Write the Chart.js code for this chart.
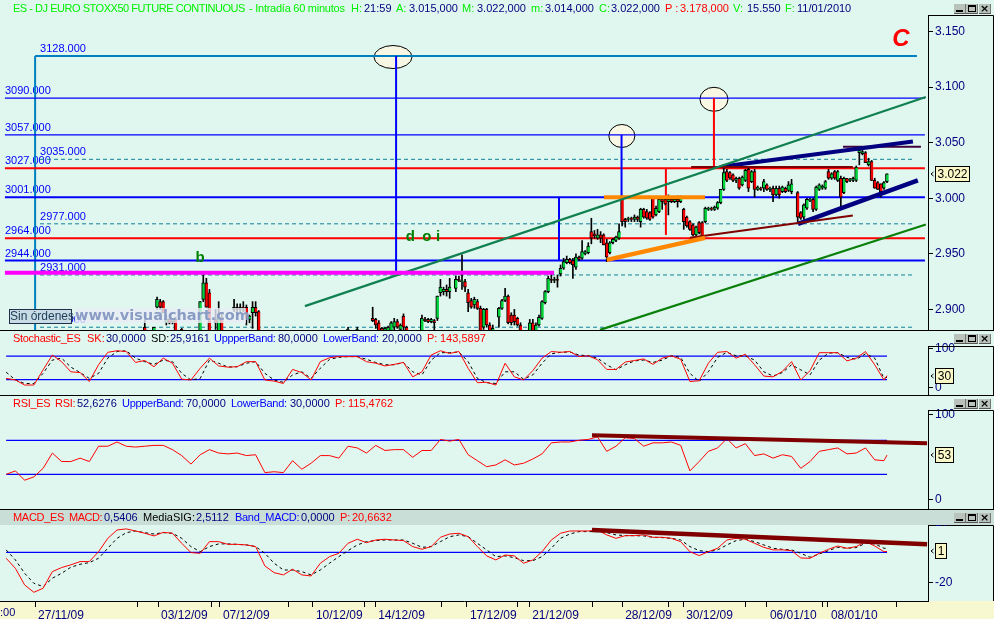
<!DOCTYPE html>
<html>
<head>
<meta charset="utf-8">
<title>ES - DJ EURO STOXX50</title>
<script src="https://cdn.jsdelivr.net/npm/chart.js@4"></script>
<style>
html, body { margin: 0; padding: 0; }
body { width: 994px; height: 619px; overflow: hidden; position: relative; background: #e0f7ef;
       font-family: "Liberation Sans", Arial, sans-serif; }
.panel { position: absolute; left: 0; width: 994px; }
.rule { position: absolute; left: 0; width: 994px; height: 1px; background: #000; }
.txt { position: absolute; font-size: 11px; line-height: 14px; white-space: pre; }
.btn { position: absolute; width: 11px; height: 9px; background: #b9c3bb; border-bottom: 1px solid #555; border-right: 1px solid #777;
       font: bold 11px/9px "DejaVu Sans", sans-serif; color: #000; text-align: center; }
.btn i { position: absolute; display: block; box-sizing: border-box; }
#macdStrip { position: absolute; left: 0; top: 510px; width: 994px; height: 15px; background: #c9ded7; }
#dateStrip { position: absolute; left: 0; top: 601px; width: 994px; height: 18px; background: #f8f8d0; }
#sinOrdenes { position: absolute; left: 9px; top: 309px; width: 61px; height: 13px; border: 1px solid #20304a;
              background: #c8dce6; color: #20405a; font-size: 12px; line-height: 13px; text-align: center; white-space: nowrap; }
#watermark { position: absolute; left: 75px; top: 308px; width: 171px; height: 15px; background: rgba(232,236,246,0.8);
             color: #8a9cc4; font: bold 14.5px "DejaVu Sans", sans-serif; line-height: 15px; white-space: pre; }
</style>
</head>
<body>
<div id="macdStrip"></div>
<div id="dateStrip"></div>
<div class="panel" style="top:0;height:330px"><canvas id="priceChart"></canvas></div>
<div class="panel" style="top:331px;height:64px"><canvas id="stochChart"></canvas></div>
<div class="panel" style="top:396px;height:113px"><canvas id="rsiChart"></canvas></div>
<div class="panel" style="top:510px;height:109px"><canvas id="macdChart"></canvas></div>
<div class="rule" style="top:330px"></div>
<div class="rule" style="top:395px"></div>
<div class="rule" style="top:509px"></div>
<div id="watermark">www.visualchart.com</div>
<div id="sinOrdenes">Sin órdenes</div>
<script>
// Candles that show above the bottom of the price panel, position counted in hourly bars
const candleBars = [
  47,50,51,52,53,54,55,56,57,59,
  65,66,67,68,70,71,72,76,77,78,
  79,80,81,82,83,84,113,116,121,122,
  123,124,125,126,127,128,129,130,131,132,
  137,138,139,140,141,142,143,144,145,146,
  148,149,150,151,152,153,154,155,156,157,
  158,159,160,162,163,164,165,166,167,168,
  169,172,173,174,175,176,177,178,179,180,
  181,182,183,184,185,186,187,188,189,190,
  191,192,193,194,195,196,197,198,199,200,
  201,202,203,204,205,206,207,208,209,210,
  211,212,213,214,215,216,217,218,219,220,
  221,222,223,224,225,226,227,228,229,230,
  231,232,233,234,235,236,237,238,239,240,
  241,242,243,244,245,246,247,248,249,250,
  251,252,253,254,255,256,257,259,260,261,
  262,263,264,265,266,267,268,269,270,271,
  272,273,274,275,276,277,278,279,280,281,
  282,283,284,285,286,287,288
];
const candleOpens = [
  2884,2881,2902,2907,2907,2888,2891,2889,2891,2882,
  2881,2909,2924,2915,2891,2881,2893,2900,2902,2900,
  2902,2902,2891,2897,2902,2898,2881,2881,2892,2891,
  2888,2883,2881,2881,2881,2884,2889,2882,2894,2884,
  2881,2891,2891,2889,2890,2892,2915,2916,2918,2916,
  2919,2927,2925,2925,2915,2908,2904,2907,2901,2884,
  2900,2886,2881,2893,2901,2908,2912,2895,2895,2892,
  2886,2881,2888,2881,2886,2892,2906,2916,2927,2926,
  2927,2932,2937,2942,2945,2944,2938,2947,2946,2950,
  2951,2970,2968,2964,2967,2967,2960,2951,2960,2962,
  2964,3000,2981,2981,2982,2981,2983,2979,2990,2988,
  2987,3000,2985,2988,2999,2999,2997,2999,2997,2999,
  2997,2990,2983,2979,2976,2967,2978,2978,2979,2990,
  2991,2990,2991,2996,3008,3024,3023,3021,3016,3018,
  3012,3016,3026,3015,3024,3008,3009,3009,3012,3008,
  3009,3003,3009,3006,3009,3007,3006,3005,2987,2983,
  2991,2998,2999,2990,3008,3009,3009,3024,3018,3024,
  3016,3018,3005,3018,3016,3016,3016,3041,3040,3041,
  3030,3033,3016,3014,3013,3009,3015
];
const candleHighs = [
  2891,2884,2911,2909,2908,2895,2892,2892,2893,2883,
  2907,2931,2928,2918,2900,2907,2896,2909,2905,2905,
  2907,2904,2895,2907,2907,2899,2884,2884,2902,2892,
  2890,2884,2884,2885,2889,2892,2891,2887,2896,2885,
  2895,2893,2892,2892,2891,2912,2927,2920,2922,2928,
  2930,2930,2949,2927,2918,2910,2911,2909,2903,2901,
  2901,2888,2886,2902,2909,2919,2913,2897,2900,2893,
  2888,2891,2891,2888,2895,2908,2917,2930,2934,2929,
  2931,2940,2946,2948,2946,2946,2950,2948,2962,2953,
  2960,2982,2971,2972,2970,2968,2963,2961,2964,2966,
  2977,3002,2982,2983,2983,2985,2984,2991,2991,2990,
  2988,3001,2993,3000,3001,3000,3003,3000,3000,3002,
  3002,2991,2984,2980,2977,2975,2979,2979,2992,2992,
  2992,2993,2997,3008,3029,3026,3024,3022,3019,3019,
  3020,3026,3028,3025,3026,3011,3010,3017,3013,3010,
  3011,3011,3011,3011,3010,3015,3017,3006,2988,2995,
  3000,3000,3000,3011,3013,3012,3016,3026,3023,3025,
  3025,3020,3019,3018,3018,3019,3029,3043,3043,3042,
  3036,3034,3018,3015,3013,3015,3022
];
const candleLows = [
  2881,2881,2900,2900,2897,2886,2887,2887,2881,2881,
  2881,2907,2902,2881,2882,2881,2881,2898,2895,2897,
  2898,2886,2888,2883,2894,2881,2881,2881,2889,2883,
  2881,2881,2881,2881,2881,2881,2883,2881,2881,2881,
  2881,2889,2888,2888,2881,2890,2912,2913,2912,2910,
  2916,2925,2918,2916,2898,2901,2901,2900,2881,2882,
  2884,2881,2881,2884,2900,2907,2887,2886,2886,2885,
  2881,2881,2881,2881,2885,2891,2905,2915,2924,2924,
  2920,2930,2936,2941,2941,2928,2936,2944,2945,2949,
  2950,2959,2964,2963,2960,2958,2943,2950,2959,2961,
  2963,2975,2974,2979,2979,2979,2979,2974,2982,2981,
  2980,2982,2984,2987,2990,2994,2985,2996,2996,2992,
  2996,2972,2974,2971,2966,2965,2968,2964,2978,2989,
  2989,2989,2990,2995,3007,3015,3017,3015,3014,3008,
  3011,3015,3006,3014,3001,3007,3007,3006,3007,3006,
  2997,3002,3000,3005,3005,3006,3004,2979,2981,2981,
  2990,2997,2988,2989,3007,3008,3008,3017,3017,3017,
  3015,2992,3004,3014,3015,3015,3015,3030,3039,3032,
  3029,3016,3009,3008,3001,3008,3014
];
const candleCloses = [
  2881,2884,2909,2902,2897,2891,2888,2891,2881,2881,
  2907,2924,2902,2881,2888,2893,2881,2902,2900,2902,
  2901,2892,2894,2902,2897,2881,2882,2882,2890,2886,
  2881,2881,2883,2884,2888,2889,2884,2886,2884,2881,
  2892,2890,2889,2891,2888,2912,2920,2918,2916,2920,
  2927,2926,2926,2920,2906,2902,2909,2901,2881,2900,
  2886,2881,2883,2901,2908,2912,2888,2888,2889,2886,
  2881,2888,2881,2886,2893,2907,2916,2928,2926,2927,
  2926,2937,2943,2945,2942,2940,2947,2945,2952,2952,
  2957,2964,2966,2967,2964,2958,2947,2960,2963,2965,
  2970,2979,2979,2982,2981,2983,2981,2990,2983,2982,
  2981,2983,2991,2999,2997,2995,2999,2997,2999,2997,
  3000,2979,2975,2972,2967,2974,2969,2965,2991,2991,
  2990,2992,2996,3008,3023,3016,3018,3016,3018,3009,
  3019,3025,3009,3024,3008,3010,3008,3015,3008,3009,
  3003,3009,3003,3010,3006,3012,3013,2983,2982,2994,
  2999,2999,2990,3010,3012,3011,3015,3018,3022,3018,
  3024,3001,3018,3015,3017,3018,3028,3043,3042,3032,
  3033,3016,3009,3008,3006,3014,3022
];

// Indicator readings, one every three bars
const stochK = [
  23,19,6,6,45,83,66,40,38,15, 58,90,94,92,64,69,53,75,62,21,
  19,49,75,55,52,53,66,66,19,16, 10,46,38,19,66,76,79,79,79,66,
  62,55,59,64,27,40,83,94,87,92, 49,12,13,6,62,27,19,43,75,92,
  90,92,79,81,71,46,46,65,69,73, 59,75,81,72,15,17,62,90,92,75,
  85,58,29,27,41,66,19,43,89,89, 89,68,75,92,58,19,30
];
const stochD = [
  39,19,10,10,36,70,75,52,38,23, 36,75,92,94,75,66,59,70,66,36,
  19,23,70,62,52,53,62,66,36,19, 13,32,40,23,49,72,77,79,79,72,
  64,58,58,64,40,32,70,89,89,91, 66,23,12,10,40,40,21,32,62,86,
  90,91,83,81,75,58,45,58,68,70, 64,70,81,77,36,15,40,77,90,81,
  81,70,40,29,38,58,45,32,70,88, 89,77,72,86,75,23,26
];
const rsiValues = [
  30,34,23,27,37,55,45,45,49,45, 63,63,68,63,62,63,64,64,59,52,
  42,53,59,55,54,55,52,53,32,33, 32,46,36,43,52,52,49,63,61,55,
  64,58,59,59,50,58,58,71,69,71, 53,46,39,41,47,41,43,48,54,67,
  68,68,70,71,74,57,63,73,72,63, 67,67,68,64,34,45,57,61,72,61,
  66,52,54,49,53,51,37,45,57,59, 61,54,55,61,47,46,52.6
];
const macdValues = [
  -4,-10.7,-21.8,-26.7,-24,-12.9,-10.2,-8.4,-6.2,-6.2, 0.4,9.3,14.9,15.6,14.2,12.7,10.9,13.3,12.7,6,
  -0.2,-0.7,7.1,7.1,5.3,5.3,4.9,3.8,-9.1,-13.6, -15.1,-11.3,-15.1,-15.8,-7.3,-2.9,-0.7,6,8.7,6.4,
  8.2,8.7,8.2,7.8,3.8,2,3.8,10,12.2,12.7, 10.4,3.8,-2.4,-5.1,-1.8,-2.4,-7.3,-5.1,0.4,8.2,
  12.7,14.2,14.2,14.2,14.9,11.6,9.3,11.1,11.1,11.6, 10,10,9.3,7.1,0.4,-2.2,0.4,2.7,8.2,9.3,
  8.7,6,3.3,1.6,1.6,1.1,-3.8,-4,-0.7,2, 4.2,2.7,3.8,7.1,4.2,0.4,0.54
];
const macdSignal = [
  1.6,-5.1,-14,-20.7,-22.9,-17.3,-14,-10,-8,-6.9, -4,2.7,9.3,13.1,14.2,13.1,12.2,13.1,12.7,9.3,
  3.8,0.4,3.8,5.6,5.6,5.3,4.9,3.8,-0.7,-7.3, -11.8,-11.8,-12.9,-15.1,-11.8,-7.3,-2.9,1.1,4.9,7.1,
  7.8,8.2,8.2,8.2,6,3.3,3.8,7.1,10.4,11.6, 10.4,6,1.6,-2.9,-2.4,-3.6,-5.6,-5.6,-2.9,2.7,
  9.3,12.2,13.8,13.8,13.8,13.1,11.6,11.1,11.1,10.9, 10,9.8,9.3,8.2,3.8,1.1,0.4,1.6,4.9,7.8,
  8.7,7.1,4.9,2.7,2,1.6,-0.7,-3.3,-1.1,1.1, 3.3,2.7,3.1,6,5.6,2.7,2.5
];

// Horizontal levels on the price panel
const levelPrices    = [3128, 3090, 3057, 3035, 3027, 3001, 2977, 2964, 2944, 2931, 2884];
const levelStartBars = [11.4, 1.6, 1.6, 13, 1.6, 1.6, 13, 1.6, 1.6, 13, 13];
const levelEndBars   = [297.7, 300.3, 300.3, 297, 300.3, 300.3, 297, 300.3, 300.3, 297, 297];
const levelLabelBars = [13, 1.6, 1.6, 13, 1.6, 1.6, 13, 1.6, 1.6, 13, 13];

// Trend lines and projections on the price panel
const trendStartBars   = [1.6, 99, 194.8, 196.1, 197, 224.4, 224, 234.6, 259.1, 273.7];
const trendStartPrices = [2933, 2903, 2881.6, 3001, 2944.6, 3028, 2964.4, 3028.6, 2977, 3046.3];
const trendEndBars     = [179.9, 300.6, 300.6, 228.9, 228.9, 276.9, 276.9, 296.4, 298, 299];
const trendEndPrices   = [2933, 3091, 2976.4, 3001, 2964.4, 3028, 2984.5, 3051, 3016, 3046.3];

// Target projections: vertical legs and the ellipses that mark their ends
const legBars      = [128.6, 181.5, 201.8, 231.8, 216.2];
const legLowPrices = [2933, 2944, 3001, 3027, 2967];
const legTopPrices = [3128, 3001, 3057, 3090, 3027];
const ellipseBars   = [127.6, 201.9, 231.8];
const ellipsePrices = [3127, 3056, 3089];

const noteTexts  = ['C', 'b', 'd', 'o', 'i'];
const noteBars   = [292.5, 65, 133.2, 138.6, 142.2];
const notePrices = [3142.6, 2946.4, 2965, 2965, 2965];

const priceTicks = [3150, 3100, 3050, 3000, 2950, 2900];
const stochTicks = [100, 0];
const stochBands = [80, 20];
const rsiTicks   = [100, 0];
const rsiBands   = [70, 30];
const macdTicks  = [-20];
const macdBands  = [0];

// RSI and MACD resistance lines
const rsiTrendBars   = [192.2, 301];
const rsiTrendValues = [75.9, 66.4];
const macdTrendBars   = [192.2, 301];
const macdTrendValues = [14.9, 5.3];

const dateTickBars = [11.4, 44.5, 51.3, 68.8, 71.4, 93.8, 101.6, 118.5, 121.8, 143.5, 151.6,
                      167.9, 171.8, 192.5, 202, 217.2, 221.8, 242.2, 249, 266.9, 268.8, 291.2];
const dateTickLabels = ['27/11/09', '', '03/12/09', '', '07/12/09', '', '10/12/09', '', '14/12/09', '', '17/12/09',
                        '', '21/12/09', '', '28/12/09', '', '30/12/09', '', '06/01/10', '', '08/01/10', ''];

const indicatorBars = stochK.map((_, i) => i < stochK.length - 1 ? 2 + 3 * i : 288);

Chart.defaults.font.family = '"Liberation Sans", Arial, sans-serif';
Chart.defaults.animation = false;

const BARS_SHOWN = 301.3;
const AXIS_WIDTH = 66;
const NAVY = '#000080';
const BLUE = '#0000ff';
const RED = '#ff0000';
const TEAL = '#0080c0';
const DASH = '#107f98';
const MAROON = '#800000';

// Styles for the levels and trend lines, same order as the arrays above
const levelStyles = [
  { color: TEAL, width: 2 }, { color: BLUE, width: 1.3 }, { color: BLUE, width: 1.2 },
  { color: DASH, width: 1, dash: [4, 3] }, { color: RED, width: 2 }, { color: BLUE, width: 2 },
  { color: DASH, width: 1, dash: [4, 3] }, { color: RED, width: 2 }, { color: BLUE, width: 2 },
  { color: DASH, width: 1, dash: [4, 3] }, { color: DASH, width: 1, dash: [4, 3] }
];
const trendStyles = [
  { color: '#ff00ff', width: 4 }, { color: '#108050', width: 2.2 }, { color: '#0a800a', width: 2.2 },
  { color: '#ff8800', width: 4 }, { color: '#ff8800', width: 4.5 }, { color: MAROON, width: 2 },
  { color: MAROON, width: 2 }, { color: '#000080', width: 4 }, { color: '#000080', width: 4.5 },
  { color: '#400040', width: 2 }
];
const legColors = [BLUE, BLUE, BLUE, RED, RED];

function toPoints(xs, ys) {
  return xs.map((x, i) => ({ x: x, y: ys[i] }));
}

function lineDataset(points, style, order) {
  return {
    type: 'line',
    data: points,
    borderColor: style.color,
    borderWidth: style.width,
    borderDash: style.dash || [],
    pointRadius: 0,
    tension: 0,
    order: order
  };
}

// Axis box around the scale column, and the value tag next to it
function axisPlugin(tagValue, tagText, tagWidth) {
  return {
    id: 'axisBox',
    afterDraw(chart) {
      const ctx = chart.ctx;
      const area = chart.chartArea;
      ctx.save();
      ctx.strokeStyle = '#000';
      ctx.lineWidth = 1;
      ctx.beginPath();
      ctx.moveTo(area.right, area.top + 0.5);
      ctx.lineTo(993.5, area.top + 0.5);
      ctx.lineTo(993.5, area.bottom);
      ctx.stroke();

      const y = Math.round(chart.scales.y.getPixelForValue(tagValue));
      ctx.fillStyle = '#fbf8c8';
      ctx.fillRect(935.5, y - 7.5, tagWidth, 15);
      ctx.strokeRect(935.5, y - 7.5, tagWidth, 15);
      ctx.fillStyle = '#000';
      ctx.font = '12px "Liberation Sans"';
      ctx.textAlign = 'center';
      ctx.textBaseline = 'middle';
      ctx.fillText(tagText, 935.5 + tagWidth / 2, y + 0.5);
      ctx.beginPath();
      ctx.moveTo(933.5, y - 2);
      ctx.lineTo(931, y);
      ctx.lineTo(933.5, y + 2);
      ctx.stroke();
      ctx.restore();
    }
  };
}

function yScale(min, max, ticks, format) {
  return {
    type: 'linear',
    position: 'right',
    min: min,
    max: max,
    afterBuildTicks: s => { s.ticks = ticks.map(v => ({ value: v })); },
    // no room kept for half a label above and below, the plot runs to the panel edge
    afterFit: s => { s.width = AXIS_WIDTH; s.paddingTop = 0; s.paddingBottom = 0; },
    grid: { drawOnChartArea: false, tickLength: 5, color: '#000' },
    border: { display: true, color: '#000' },
    ticks: { color: NAVY, padding: 2, font: { size: 12 }, callback: format }
  };
}

function xScale(visible) {
  const scale = { type: 'linear', min: 0, max: BARS_SHOWN, offset: false, display: visible, grid: { offset: false } };
  return scale;
}

function buildChart(id, datasets, scales, top, plugins) {
  return new Chart(document.getElementById(id).getContext('2d'), {
    type: 'line',
    data: { datasets: datasets },
    options: {
      responsive: true,
      maintainAspectRatio: false,
      devicePixelRatio: 1,
      layout: { padding: { top: top, left: 0, right: 0, bottom: 0 } },
      plugins: { legend: { display: false }, tooltip: { enabled: false } },
      events: [],
      scales: scales
    },
    plugins: plugins
  });
}

function bandDatasets(bands) {
  return bands.map(v => lineDataset(toPoints([2, 288], [v, v]), { color: BLUE, width: 1.2 }, 5));
}

// Price panel: levels under the candles, trend lines on top
function renderPriceChart() {
  const datasets = [];
  levelPrices.forEach((p, i) => {
    datasets.push(lineDataset(toPoints([levelStartBars[i], levelEndBars[i]], [p, p]), levelStyles[i], 10));
  });
  // the long 3128 line also drops down the left side
  datasets.push(lineDataset(toPoints([levelStartBars[0], levelStartBars[0]], [2881, levelPrices[0]]), levelStyles[0], 10));
  legBars.forEach((b, i) => {
    datasets.push(lineDataset(toPoints([b, b], [legLowPrices[i], legTopPrices[i]]), { color: legColors[i], width: 2 }, 4));
  });

  datasets.push({
    type: 'bar',
    grouped: false,
    data: candleBars.map((b, i) => ({ x: b, y: [candleLows[i], candleHighs[i]] })),
    backgroundColor: '#000',
    barThickness: 1,
    borderWidth: 0,
    order: 3
  });
  datasets.push({
    type: 'bar',
    grouped: false,
    data: candleBars.map((b, i) => ({ x: b, y: [candleOpens[i], candleCloses[i]] })),
    backgroundColor: candleBars.map((_, i) => candleCloses[i] >= candleOpens[i] ? '#00d23c' : '#f00000'),
    borderColor: '#000',
    borderWidth: { left: 1, right: 0, top: 1, bottom: 1 },
    borderSkipped: false,
    barThickness: 3.2,
    order: 2
  });
  trendStartBars.forEach((b, i) => {
    datasets.push(lineDataset(toPoints([b, trendEndBars[i]], [trendStartPrices[i], trendEndPrices[i]]), trendStyles[i], 1));
  });

  const overlays = {
    id: 'priceOverlays',
    beforeDatasetsDraw(chart) {
      const ctx = chart.ctx;
      const sx = chart.scales.x;
      const sy = chart.scales.y;
      ctx.save();
      // ellipses around the targets
      const radii = [[19, 11.5], [13, 11.5], [14, 12]];
      ellipseBars.forEach((b, i) => {
        ctx.beginPath();
        ctx.ellipse(sx.getPixelForValue(b), sy.getPixelForValue(ellipsePrices[i]), radii[i][0], radii[i][1], 0, 0, Math.PI * 2);
        ctx.fillStyle = '#f8f7e4';
        ctx.fill();
        ctx.strokeStyle = '#000';
        ctx.lineWidth = 1;
        ctx.stroke();
      });
      // price labels sit just over their level
      ctx.fillStyle = BLUE;
      ctx.font = '11px "Liberation Sans"';
      ctx.textAlign = 'left';
      ctx.textBaseline = 'alphabetic';
      levelPrices.forEach((p, i) => {
        ctx.fillText(p + '.000', sx.getPixelForValue(levelLabelBars[i]), sy.getPixelForValue(p) - 4);
      });
      ctx.restore();
    },
    afterDatasetsDraw(chart) {
      const ctx = chart.ctx;
      ctx.save();
      ctx.textAlign = 'center';
      ctx.textBaseline = 'middle';
      noteTexts.forEach((t, i) => {
        ctx.fillStyle = t === 'C' ? RED : '#008000';
        ctx.font = t === 'C' ? 'italic bold 24px "Liberation Sans"' : 'bold 15px "Liberation Sans"';
        ctx.fillText(t, chart.scales.x.getPixelForValue(noteBars[i]), chart.scales.y.getPixelForValue(notePrices[i]));
      });
      ctx.restore();
    }
  };

  buildChart('priceChart', datasets, {
    x: xScale(false),
    y: yScale(2881.5, 3164.8, priceTicks, v => (v / 1000).toFixed(3))
  }, 15, [overlays, axisPlugin(3022, '3.022', 34)]);
}

function renderStochChart() {
  const datasets = bandDatasets(stochBands);
  datasets.push(lineDataset(toPoints(indicatorBars, stochD), { color: '#000', width: 1, dash: [3, 3] }, 3));
  datasets.push(lineDataset(toPoints(indicatorBars, stochK), { color: RED, width: 1 }, 2));
  buildChart('stochChart', datasets, {
    x: xScale(false),
    y: yScale(-19.6, 106.2, stochTicks, v => String(v))
  }, 15, [axisPlugin(30, '30', 18)]);
}

function renderRsiChart() {
  const datasets = bandDatasets(rsiBands);
  datasets.push(lineDataset(toPoints(indicatorBars, rsiValues), { color: RED, width: 1 }, 2));
  datasets.push(lineDataset(toPoints(rsiTrendBars, rsiTrendValues), { color: MAROON, width: 4 }, 1));
  buildChart('rsiChart', datasets, {
    x: xScale(false),
    y: yScale(-10.8, 105.6, rsiTicks, v => String(v))
  }, 14, [axisPlugin(52.6, '53', 18)]);
}

// MACD panel carries the date axis
function renderMacdChart() {
  const datasets = bandDatasets(macdBands);
  datasets.push(lineDataset(toPoints(indicatorBars, macdSignal), { color: '#000', width: 1, dash: [3, 3] }, 3));
  datasets.push(lineDataset(toPoints(indicatorBars, macdValues), { color: RED, width: 1 }, 2));
  datasets.push(lineDataset(toPoints(macdTrendBars, macdTrendValues), { color: MAROON, width: 4.5 }, 1));

  const x = xScale(true);
  x.afterBuildTicks = s => { s.ticks = dateTickBars.map(v => ({ value: v })); };
  x.afterFit = s => { s.height = 18; s.paddingLeft = 0; s.paddingRight = 0; };
  x.grid = { offset: false, drawOnChartArea: false, tickLength: 6, color: '#000' };
  x.border = { display: true, color: '#000' };
  x.ticks = {
    color: NAVY, padding: 1, align: 'start', labelOffset: 3, autoSkip: false, maxRotation: 0, minRotation: 0,
    font: { size: 12 }, callback: (v, i) => dateTickLabels[i]
  };

  // the +20 tick sits just over the panel, only its foot shows under the strip
  const clippedTick = {
    id: 'clippedTick',
    afterDraw(chart) {
      const ctx = chart.ctx;
      const area = chart.chartArea;
      ctx.save();
      ctx.beginPath();
      ctx.rect(area.right, area.top, AXIS_WIDTH, 10);
      ctx.clip();
      ctx.fillStyle = NAVY;
      ctx.font = '12px "Liberation Sans"';
      ctx.textBaseline = 'middle';
      ctx.fillText('20', area.right + 7, chart.scales.y.getPixelForValue(20));
      ctx.restore();
    }
  };

  buildChart('macdChart', datasets, {
    x: x,
    y: yScale(-32.5, 18.2, macdTicks, v => String(v))
  }, 15, [axisPlugin(0.54, '1', 11), clippedTick]);
}

// Header text runs: left, colour, text, and letter spacing where the run has to be squeezed
function addRuns(top, runs) {
  runs.forEach(r => {
    const el = document.createElement('div');
    el.className = 'txt';
    el.style.left = r[0] + 'px';
    el.style.top = top + 'px';
    el.style.color = r[1];
    if (r[3]) el.style.letterSpacing = r[3] + 'px';
    el.textContent = r[2];
    document.body.appendChild(el);
  });
}

// Minimise, maximise and close buttons of each pane
function addButtons(top) {
  [954, 966, 979].forEach((left, i) => {
    const el = document.createElement('div');
    el.className = 'btn';
    el.style.left = left + 'px';
    el.style.top = top + 'px';
    if (i === 0) {
      el.innerHTML = '<i style="left:2px;top:6px;width:7px;height:2px;background:#000"></i>';
    } else if (i === 1) {
      el.innerHTML = '<i style="left:2px;top:1px;width:8px;height:7px;border:1px solid #000;border-top-width:2px"></i>';
    } else {
      el.textContent = '×';
    }
    document.body.appendChild(el);
  });
}

const LIME = '#00f000';
const TIGHT = -0.3;
addRuns(1, [
  [13, LIME, 'ES - DJ EURO STOXX50 FUTURE CONTINUOUS', -0.47], [249, LIME, '- Intradía 60 minutos', -0.25],
  [351, LIME, 'H:'], [364, NAVY, '21:59'], [396, LIME, 'A:'], [409, NAVY, '3.015,000'],
  [462, LIME, 'M:'], [477, NAVY, '3.022,000'], [531, LIME, 'm:'], [545, NAVY, '3.014,000'],
  [599, LIME, 'C:'], [611, NAVY, '3.022,000'], [665, RED, 'P :'], [680, RED, '3.178,000'],
  [733, LIME, 'V:'], [747, NAVY, '15.550'], [785, LIME, 'F:'], [797, NAVY, '11/01/2010']
]);
addRuns(331, [
  [13, RED, 'Stochastic_ES', TIGHT], [87, RED, 'SK:'], [106, NAVY, '30,0000'], [151, '#000', 'SD:'], [170, NAVY, '25,9161'],
  [214, BLUE, 'UppperBand:', TIGHT], [278, NAVY, '80,0000'], [323, BLUE, 'LowerBand:', TIGHT], [382, NAVY, '20,0000'],
  [427, RED, 'P:'], [440, RED, '143,5897']
]);
addRuns(396, [
  [13, RED, 'RSI_ES', TIGHT], [55, RED, 'RSI:', TIGHT], [77, NAVY, '52,6276'], [122, BLUE, 'UppperBand:', TIGHT], [186, NAVY, '70,0000'],
  [231, BLUE, 'LowerBand:', TIGHT], [290, NAVY, '30,0000'], [335, RED, 'P:'], [348, RED, '115,4762']
]);
addRuns(510, [
  [13, RED, 'MACD_ES', TIGHT], [69, RED, 'MACD:', -0.5], [104, NAVY, '0,5406'], [143, '#000', 'MediaSIG:'], [196, NAVY, '2,5112'],
  [235, BLUE, 'Band_MACD:', TIGHT], [301, NAVY, '0,0000'], [340, RED, 'P:'], [352, RED, '20,6632']
]);
addRuns(605, [[0, NAVY, ':00']]);
[4, 334, 399, 513].forEach(addButtons);

renderPriceChart();
renderStochChart();
renderRsiChart();
renderMacdChart();
</script>
</body>
</html>
